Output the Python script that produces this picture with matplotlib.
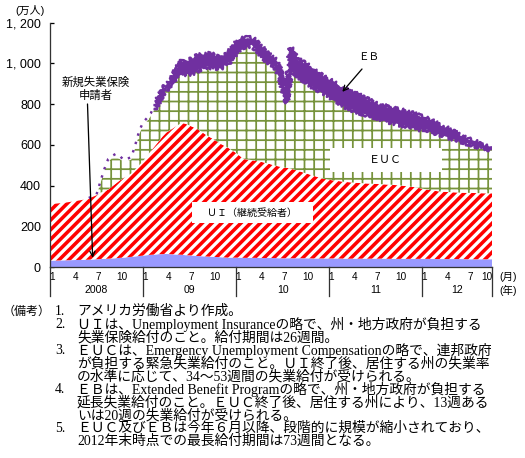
import numpy as np
import matplotlib.pyplot as plt
import matplotlib.transforms as mtransforms
from matplotlib.patches import Rectangle

plt.rcParams['font.family'] = ['Liberation Sans', 'Noto Sans CJK JP']

DPI = 116
def px(v):
    # pixels -> points
    return v * 72 / DPI

# months since Jan 2008
months = [0, 1, 2, 3, 4, 5, 6,
          6.5, 7, 7.5, 8, 8.5, 9, 9.5, 10, 10.5, 11,
          11.5, 12, 12.5, 13, 13.5, 14, 14.5, 15, 15.5, 16,
          16.5, 17, 17.5, 18, 18.5, 19, 19.5, 20, 20.5, 21,
          21.5, 22, 22.5, 23, 23.5, 24, 24.5, 25, 25.5, 26,
          26.5, 27, 27.5, 28, 28.5, 29, 29.5, 30, 30.5, 31,
          31.5, 32,
          33, 34, 35, 36, 37, 38, 39, 40, 41, 42,
          43, 44, 45, 46, 47, 48, 49, 50, 51, 52,
          53, 54, 55, 56, 57]

# 万人
initial = [31, 32, 33, 34, 35, 36, 38,
           39, 40, 41, 42, 43, 45, 46, 48, 50, 52,
           54, 56, 58, 60, 61, 63, 63, 64, 63, 62,
           61, 60, 58, 57, 56, 54, 53, 52, 51, 50,
           49, 48, 47, 46, 46, 46, 46, 45, 45, 45,
           45, 44, 44, 44, 44, 44, 43, 43, 43, 43,
           43, 43,
           43, 42, 42, 42, 42, 41, 41, 41, 41, 41,
           41, 40, 40, 40, 40, 40, 40, 39, 39, 39,
           39, 38, 38, 38, 38]
ui = [277, 280, 283, 288, 293, 300, 314,
      326, 332, 339, 353, 367, 380, 391, 400, 410, 428,
      446, 464, 487, 510, 532, 553, 577, 596, 609, 623,
      636, 648, 645, 638, 630, 624, 612, 600, 589, 580,
      569, 557, 548, 539, 526, 514, 499, 485, 483, 480,
      476, 474, 470, 465, 460, 454, 451, 447, 444, 441,
      435, 429,
      417, 406, 394, 386, 381, 377, 374, 371, 369, 367,
      365, 364, 361, 357, 352, 345, 338, 333, 330, 328,
      326, 326, 325, 324, 324]
euc = [0, 0, 0, 0, 0, 0, 0,
       45, 98, 138, 138, 130, 105, 78, 72, 68, 105,
       150, 175, 170, 170, 182, 194, 205, 212, 223, 234,
       238, 243, 242, 255, 269, 287, 311, 333, 342, 354,
       357, 371, 395, 416, 458, 490, 530, 553, 557, 566,
       549, 532, 516, 500, 491, 486, 456, 390, 318, 467,
       480, 463,
       450, 434, 422, 409, 392, 372, 357, 346, 335, 327,
       319, 306, 301, 293, 288, 291, 294, 283, 272, 263,
       253, 241, 231, 223, 212]
eb = [0, 0, 0, 0, 0, 3, 4,
      10, 10, 12, 12, 16, 15, 11, 12, 12, 15,
      18, 15, 16, 15, 20, 20, 25, 21, 25, 32,
      50, 58, 55, 65, 70, 70, 66, 55, 63, 56,
      55, 57, 50, 49, 45, 49, 45, 35, 39, 29,
      42, 35, 40, 43, 35, 33, 35, 50, 35, 124,
      102, 82,
      85, 83, 82, 82, 80, 82, 83, 82, 75, 65,
      65, 68, 68, 72, 72, 59, 48, 45, 43, 35,
      25, 20, 18, 11, 4]

years = ['2008', '09', '10', '11', '12']
month_labels = ['1', '4', '7', '10']
y_ticks = [0, 200, 400, 600, 800, 1000, 1200]
y_labels = ['0', '200', '400', '600', '800', '1, 000', '1, 200']

notes = [
    ('1.', 'アメリカ労働省より作成。'),
    ('2.', 'ＵＩは、Unemployment Insuranceの略で、州・地方政府が負担する'),
    ('', '失業保険給付のこと。給付期間は26週間。'),
    ('3.', 'ＥＵＣは、Emergency Unemployment Compensationの略で、連邦政府'),
    ('', 'が負担する緊急失業給付のこと。ＵＩ終了後、居住する州の失業率'),
    ('', 'の水準に応じて、34～53週間の失業給付が受けられる。'),
    ('4.', 'ＥＢは、Extended Benefit Programの略で、州・地方政府が負担する'),
    ('', '延長失業給付のこと。ＥＵＣ終了後、居住する州により、13週ある'),
    ('', 'いは20週の失業給付が受けられる。'),
    ('5.', 'ＥＵＣ及びＥＢは今年６月以降、段階的に規模が縮小されており、'),
    ('', '2012年末時点での最長給付期間は73週間となる。'),
]

x = np.array(months)
top_init = np.array(initial)
top_ui = top_init + np.array(ui)
top_euc = top_ui + np.array(euc)
top_eb = top_euc + np.array(eb)

W, H = 525, 458
fig = plt.figure(figsize=(W / DPI, H / DPI), dpi=DPI)
ax = fig.add_axes([50 / W, 1 - 267 / H, 442 / W, (267 - 22.6) / H])
ax.set_xlim(0, 57)
ax.set_ylim(0, 1200)

purple = '#7030A0'
green = '#77933C'

ax.fill_between(x, 0, top_init, facecolor='#9999FF', linewidth=0, zorder=2)

plt.rcParams['hatch.linewidth'] = 2.2
red_area = ax.fill_between(x, top_init, top_ui, facecolor='white', edgecolor='#FF0000',
                           hatch='////', linewidth=0, zorder=2)
if hasattr(red_area, 'set_hatch_linewidth'):
    red_area.set_hatch_linewidth(2.2)

plt.rcParams['hatch.linewidth'] = 1.1
green_area = ax.fill_between(x, top_ui, top_euc, where=np.array(euc) > 0, facecolor='white',
                             edgecolor=green, hatch='++', linewidth=0, zorder=2, interpolate=True)
if hasattr(green_area, 'set_hatch_linewidth'):
    green_area.set_hatch_linewidth(1.1)

# EB: dotted while tiny (2008), band afterwards
early = (x >= 5) & (x <= 13.5)
ax.plot(x[early], top_eb[early], color=purple, lw=1.5, ls=(0, (1, 2.6)), zorder=3)
late = x >= 13.5
ax.fill_between(x[late], top_euc[late], top_eb[late], facecolor=purple,
                edgecolor='none', linewidth=0, zorder=3)
for edge in (top_eb[late], top_euc[late]):
    ln, = ax.plot(x[late], edge, color=purple, lw=1.5, zorder=3)
    ln.set_sketch_params(scale=2.5, length=2.0, randomness=3.0)

# label boxes
ax.add_patch(Rectangle((36.1, 467), 14.45, 118, facecolor='white', edgecolor='none', zorder=4))
ax.text(43.3, 526, 'ＥＵＣ', ha='center', va='center', fontsize=px(11), zorder=5)
ax.add_patch(Rectangle((18.3, 216), 15.6, 103, facecolor='white', edgecolor='none', zorder=4))
ax.text(26.05, 265, 'ＵＩ（継続受給者）', ha='center', va='center', fontsize=px(10), zorder=5)

# annotations
ax.annotate('', xy=(5.5, 45), xycoords='data', xytext=(87.5, H - 104), textcoords='figure pixels',
            arrowprops=dict(arrowstyle='->', lw=0.8, color='black', shrinkA=0, shrinkB=0,
                            mutation_scale=8), zorder=6)
fig.text(96 / W, 1 - 89 / H, '新規失業保険\n申請者', ha='center', va='center',
         fontsize=px(11.4), linespacing=1.25)
ax.annotate('', xy=(37.7, 860), xycoords='data', xytext=(362, H - 69), textcoords='figure pixels',
            arrowprops=dict(arrowstyle='->', lw=0.8, color='black', shrinkA=0, shrinkB=0,
                            mutation_scale=8), zorder=6)
fig.text(369 / W, 1 - 57 / H, 'ＥＢ', ha='center', va='center', fontsize=px(10.5))

# axes styling
for s in ['top', 'right']:
    ax.spines[s].set_visible(False)
for s in ['left', 'bottom']:
    ax.spines[s].set_color('#333333')
    ax.spines[s].set_linewidth(0.8)
    ax.spines[s].set_zorder(6)
ax.set_yticks(y_ticks)
ax.set_yticklabels(y_labels)
ax.tick_params(axis='y', direction='in', length=px(4), width=0.8, pad=px(9),
               labelsize=px(12.5), colors='black')
ax.set_xticks([])

trans = mtransforms.blended_transform_factory(ax.transData, ax.transAxes)
ax_h = 267 - 22.6
sep_bottom = -(296 - 267) / ax_h
month_y = -(276.7 - 267) / ax_h
year_y = -(290 - 267) / ax_h
for xs in [0, 12, 24, 36, 48, 57]:
    ax.plot([xs, xs], [0, sep_bottom], transform=trans, color='#333333', lw=0.8, clip_on=False)
for i, yr in enumerate(years):
    start = 12 * i
    end = min(start + 12, 57)
    ax.text((start + end) / 2, year_y, yr, transform=trans, ha='center', va='center',
            fontsize=px(10.5))
    for j, ml in enumerate(month_labels):
        pos = min(start + 3 * j + 0.25, 56.3)
        ax.text(pos, month_y, ml, transform=trans, ha='center', va='center', fontsize=px(10))
ax.text(1.036, month_y, '(月)', transform=ax.transAxes, ha='center', va='center', fontsize=px(10.5))
ax.text(1.036, year_y, '(年)', transform=ax.transAxes, ha='center', va='center', fontsize=px(10.5))
fig.text(30 / W, 1 - 10 / H, '(万人)', ha='center', va='center', fontsize=px(11))

# notes
note_font = ['Liberation Serif', 'Noto Sans CJK JP']
fs = px(13.8)
fig.text(3 / W, 1 - 311.5 / H, '（備考）', ha='left', va='center', fontsize=px(12), family=note_font)
for i, (num, line) in enumerate(notes):
    yy = 1 - (311.5 + 13 * i) / H
    if num:
        fig.text(55 / W, yy, num, ha='left', va='center', fontsize=fs, family=note_font)
    fig.text(77 / W, yy, line, ha='left', va='center', fontsize=fs, family=note_font)

fig.savefig('out.png', dpi=DPI)
